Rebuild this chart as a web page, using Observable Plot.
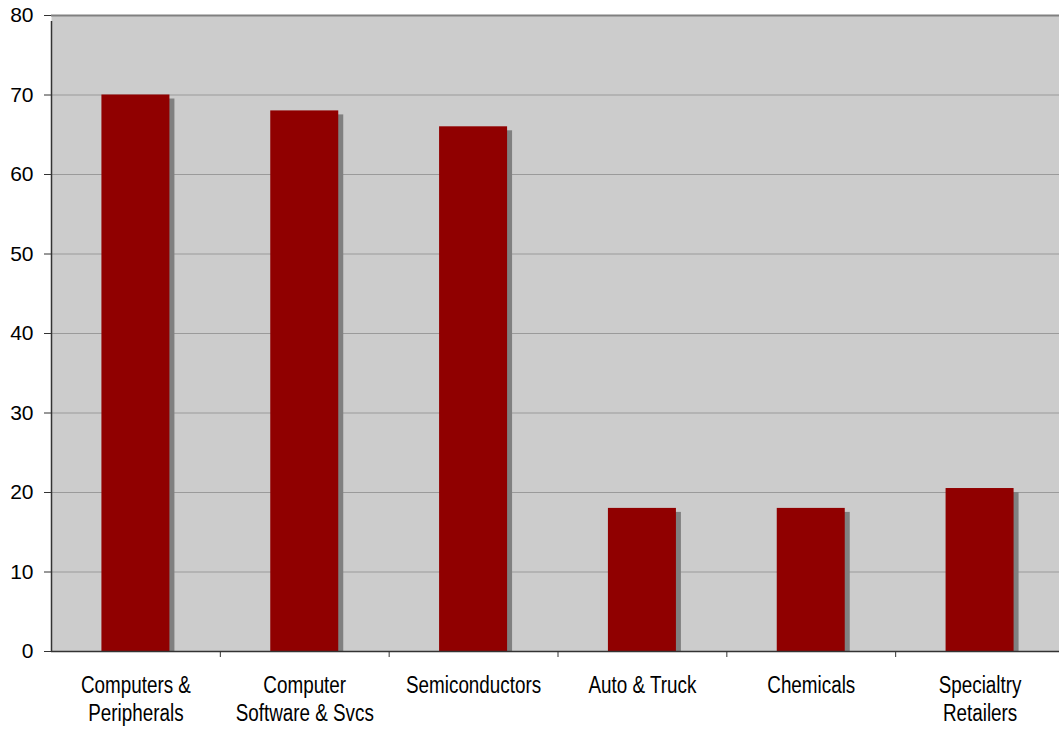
<!DOCTYPE html>
<html>
<head>
<meta charset="utf-8">
<script src="https://cdn.jsdelivr.net/npm/d3@7"></script>
<script src="https://cdn.jsdelivr.net/npm/@observablehq/plot@0.6"></script>
<style>
  html, body { margin: 0; padding: 0; background: #fff; }
  #chart { width: 1059px; height: 729px; overflow: hidden; }
</style>
</head>
<body>
<div id="chart"></div>
<script>
// Sector values
const categories = [
  "Computers & Peripherals",
  "Computer Software & Svcs",
  "Semiconductors",
  "Auto & Truck",
  "Chemicals",
  "Specialtry Retailers"
];
const tickLabels = [
  "Computers &\nPeripherals",
  "Computer\nSoftware & Svcs",
  "Semiconductors",
  "Auto & Truck",
  "Chemicals",
  "Specialtry\nRetailers"
];
const values = [70, 68, 66, 18, 18, 20.5];
const yTicks = [0, 10, 20, 30, 40, 50, 60, 70, 80];

const rows = categories.map((c, i) => ({category: c, value: values[i]}));

// Layout
const W = 1059, H = 729;
const xRange = [51, 1064];
const step = (xRange[1] - xRange[0]) / categories.length;
const barInset = (step - 68) / 2;
const axisColor = "#333333";
const font = "'Liberation Sans', Arial, sans-serif";
const narrow = 0.82; // horizontal squeeze for the category labels

const chart = Plot.plot({
  width: W,
  height: H,
  marginTop: 15,
  marginBottom: 78,
  marginLeft: 51,
  marginRight: 0,
  style: {fontFamily: font, fontSize: "21px", background: "#fff", color: "#000", overflow: "hidden"},
  x: {type: "band", domain: categories, range: xRange, padding: 0, round: false},
  y: {domain: [0, 80]},
  marks: [
    Plot.frame({fill: "#CCCCCC", stroke: "none"}),
    Plot.ruleY(yTicks.filter(t => t > 0 && t < 80), {stroke: "#9a9a9a", strokeWidth: 1}),
    Plot.ruleY([80], {stroke: "#808080", strokeWidth: 2}),
    // drop shadow behind each bar
    Plot.barY(rows, {x: "category", y: "value", fill: "#808080", dx: 5, dy: 4,
      insetLeft: barInset, insetRight: barInset, clip: true}),
    Plot.barY(rows, {x: "category", y: "value", fill: "#900000",
      insetLeft: barInset, insetRight: barInset}),
    // baseline and value axis line
    Plot.ruleY([0], {stroke: axisColor, strokeWidth: 1.5}),
    Plot.ruleX([categories[0]], {dx: -step / 2, y1: 0, y2: 80, insetBottom: -6,
      stroke: axisColor, strokeWidth: 1.5}),
    // category boundary ticks
    Plot.ruleX(categories.slice(1), {dx: -step / 2, y1: 0, y2: 0, insetBottom: -6,
      stroke: axisColor, strokeWidth: 1}),
    Plot.axisY({ticks: yTicks, tickSize: 7, tickPadding: 11, label: null,
      fontSize: 21, stroke: axisColor, fill: "#000"}),
    Plot.axisX({tickSize: 0, tickPadding: 21, label: null, fontSize: 23, lineHeight: 1.24,
      fill: "#000", tickFormat: (d) => tickLabels[categories.indexOf(d)]})
  ]
});

// condense the category labels around their anchor points
chart.querySelectorAll('g[aria-label="x-axis tick label"] text').forEach((t) => {
  const tr = t.getAttribute("transform") || "";
  t.setAttribute("transform", `${tr} scale(${narrow},1)`);
});

document.getElementById("chart").append(chart);
</script>
</body>
</html>
